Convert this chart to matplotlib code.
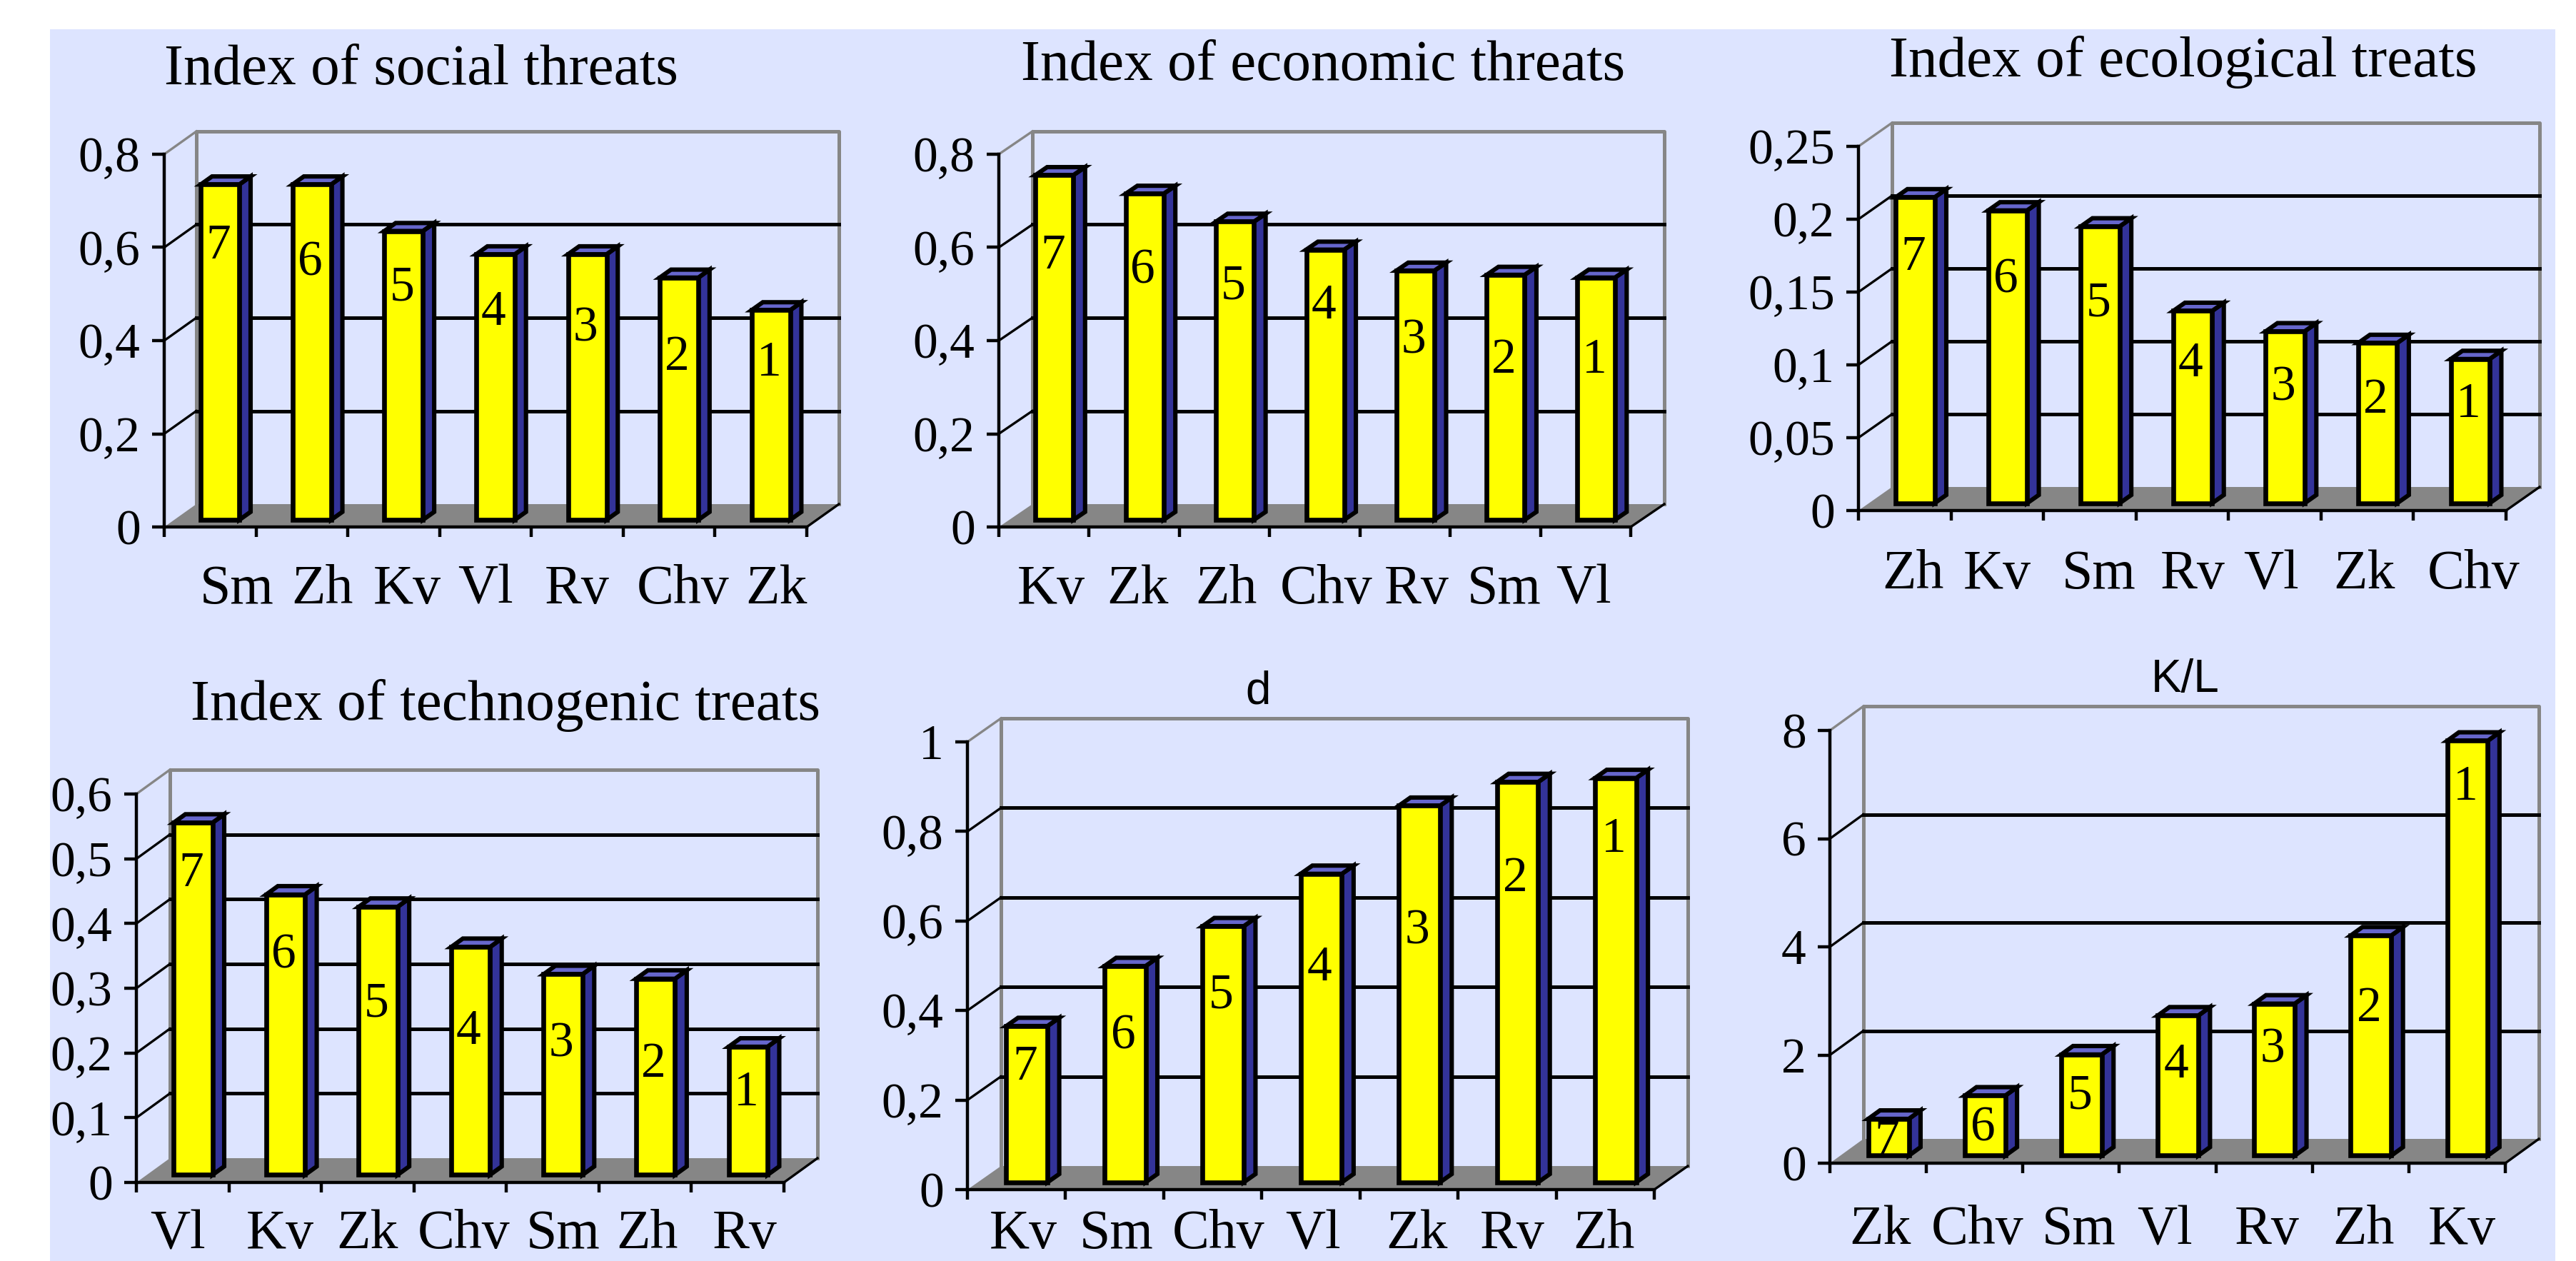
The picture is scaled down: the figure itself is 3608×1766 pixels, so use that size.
import matplotlib.pyplot as plt
from matplotlib.patches import Polygon, Rectangle

# Data
social_cats = ['Sm', 'Zh', 'Kv', 'Vl', 'Rv', 'Chv', 'Zk']
social_vals = [0.72, 0.72, 0.62, 0.57, 0.57, 0.52, 0.45]
economic_cats = ['Kv', 'Zk', 'Zh', 'Chv', 'Rv', 'Sm', 'Vl']
economic_vals = [0.74, 0.70, 0.64, 0.58, 0.535, 0.526, 0.52]
ecological_cats = ['Zh', 'Kv', 'Sm', 'Rv', 'Vl', 'Zk', 'Chv']
ecological_vals = [0.21, 0.201, 0.19, 0.132, 0.118, 0.11, 0.099]
technogenic_cats = ['Vl', 'Kv', 'Zk', 'Chv', 'Sm', 'Zh', 'Rv']
technogenic_vals = [0.544, 0.433, 0.414, 0.352, 0.31, 0.303, 0.198]
d_cats = ['Kv', 'Sm', 'Chv', 'Vl', 'Zk', 'Rv', 'Zh']
d_vals = [0.349, 0.483, 0.572, 0.689, 0.841, 0.894, 0.903]
kl_cats = ['Zk', 'Chv', 'Sm', 'Vl', 'Rv', 'Zh', 'Kv']
kl_vals = [0.68, 1.11, 1.87, 2.59, 2.81, 4.07, 7.67]

social_ticks = ['0', '0,2', '0,4', '0,6', '0,8']
economic_ticks = ['0', '0,2', '0,4', '0,6', '0,8']
ecological_ticks = ['0', '0,05', '0,1', '0,15', '0,2', '0,25']
technogenic_ticks = ['0', '0,1', '0,2', '0,3', '0,4', '0,5', '0,6']
d_ticks = ['0', '0,2', '0,4', '0,6', '0,8', '1']
kl_ticks = ['0', '2', '4', '6', '8']

rank_labels = ['7', '6', '5', '4', '3', '2', '1']

W, H = 3608, 1766
BG = '#dde4ff'
GREY = '#868686'
YELLOW = '#ffff00'
SIDE = '#333399'
TOP = '#6666cc'

SERIF = 'Liberation Serif'
SANS = 'Liberation Sans'

# title, font, cats, vals, ticks, tick step, front box (x0, x1, ytop, y0) in px, depth (dx, dy) in px,
# title centre x and baseline y in px, rank label height as share of bar, category label shift in slots,
# category baseline below the axis in px
panels = [
    ('Index of social threats', SERIF, 58.5, social_cats, social_vals, social_ticks, 0.2,
     (230, 1130, 216, 738), (45, 32), (590, 118),
     [.83, .78, .82, .80, .74, .69, .77], [.29, .22, .15, 0, 0, .15, .17], 107),
    ('Index of economic threats', SERIF, 58.5, economic_cats, economic_vals, economic_ticks, 0.2,
     (1399, 2284, 216, 738), (47, 32), (1853, 112),
     [.78, .78, .80, .81, .74, .67, .68], [.08, .04, .02, .13, .13, .10, -.02], 107),
    ('Index of ecological treats', SERIF, 58.5, ecological_cats, ecological_vals, ecological_ticks, 0.05,
     (2603, 3510, 205, 715), (47, 33), (3058, 107),
     [.82, .78, .74, .75, .70, .675, .72], [.09, 0, .10, .11, -.04, -.03, .15], 109),
    ('Index of technogenic treats', SERIF, 58.5, technogenic_cats, technogenic_vals, technogenic_ticks, 0.1,
     (191, 1098, 1112, 1656), (47, 34), (708, 1008),
     [.87, .80, .655, .65, .675, .59, .68], [-.05, .05, 0, .04, .11, .02, .08], 92),
    ('d', SANS, 46, d_cats, d_vals, d_ticks, 0.2,
     (1355, 2317, 1039, 1666), (47, 33), (1762, 986),
     [.77, .70, .75, .71, .68, .77, .86], [.07, .02, .06, .02, .08, .05, -.01], 82),
    ('K/L', SANS, 46, kl_cats, kl_vals, kl_ticks, 2,
     (2563, 3509, 1023, 1629), (47, 34), (3061, 969),
     [.52, .54, .64, .68, .73, .69, .90], [.02, .03, .08, -.03, .03, .03, .05], 113),
]

fig = plt.figure(figsize=(W / 100, H / 100), dpi=100, facecolor='white')
fig.add_artist(Rectangle((70 / W, 0), (3579 - 70) / W, 1 - 41 / H, transform=fig.transFigure,
                         facecolor=BG, edgecolor='none', zorder=-5))

for title, tfont, tsize, cats, vals, ticks, step, box, depth, tpos, rank_pos, cat_shift, cat_gap in panels:
    x0, x1, ytop, y0 = box
    n = len(cats)
    ymax = step * (len(ticks) - 1)
    ax = fig.add_axes([x0 / W, 1 - y0 / H, (x1 - x0) / W, (y0 - ytop) / H])
    ax.set_xlim(0, n)
    ax.set_ylim(0, ymax)
    ax.patch.set_visible(False)

    # depth in data units
    ddx = depth[0] / ((x1 - x0) / n)
    ddy = depth[1] / ((y0 - ytop) / ymax)

    # floor and back wall
    ax.add_patch(Polygon([(0, 0), (n, 0), (n + ddx, ddy), (ddx, ddy)], facecolor=GREY,
                         edgecolor='none', clip_on=False, zorder=1))
    ax.plot([ddx, ddx, n + ddx, n + ddx], [ddy, ymax + ddy, ymax + ddy, ddy], color=GREY,
            lw=3.6, clip_on=False, zorder=1.5, solid_capstyle='projecting')

    tick_vals = [step * i for i in range(len(ticks))]
    for t in tick_vals[1:-1]:
        ax.plot([ddx, n + ddx], [t + ddy, t + ddy], color='black', lw=3.6, clip_on=False, zorder=2)
    for t in tick_vals[1:-1]:
        ax.plot([0, ddx], [t, t + ddy], color='black', lw=2.4, clip_on=False, zorder=2)
    ax.plot([0, ddx], [ymax, ymax + ddy], color=GREY, lw=2.4, clip_on=False, zorder=2)
    ax.plot([n, n + ddx], [0, ddy], color='black', lw=2.4, clip_on=False, zorder=2)

    # 3D bars
    bw = 0.42
    off_x = 0.31 * ddx
    off_y = 0.31 * ddy
    bdx = 0.35 * ddx
    bdy = 0.35 * ddy
    for i, v in enumerate(vals):
        xc = i + 0.5 + off_x
        xl = xc - bw / 2
        xr = xc + bw / 2
        top = v + off_y
        ax.add_patch(Polygon([(xr, off_y), (xr + bdx, off_y + bdy), (xr + bdx, top + bdy), (xr, top)],
                             facecolor=SIDE, edgecolor='black', lw=4.4, clip_on=False, zorder=3 + i * 0.01,
                             joinstyle='miter'))
        ax.add_patch(Polygon([(xl, top), (xr, top), (xr + bdx, top + bdy), (xl + bdx, top + bdy)],
                             facecolor=TOP, edgecolor='black', lw=4.4, clip_on=False, zorder=3 + i * 0.01,
                             joinstyle='miter'))
        ax.bar(xc, v, width=bw, bottom=off_y, color=YELLOW, edgecolor='black', linewidth=4.8,
               clip_on=False, zorder=4 + i * 0.01)
        ax.text(xc - 0.02, off_y + v * rank_pos[i], rank_labels[i], ha='center', va='center_baseline',
                fontsize=50, family=SERIF, color='black', zorder=5)

    # axes lines, ticks and tick labels
    for side in ['top', 'right']:
        ax.spines[side].set_visible(False)
    for side in ['left', 'bottom']:
        ax.spines[side].set_linewidth(3.2)
        ax.spines[side].set_zorder(2.5)
    ax.set_xticks(range(n + 1))
    ax.set_xticklabels([])
    ax.set_yticks(tick_vals)
    ax.set_yticklabels(ticks, fontsize=50, family=SERIF)
    ax.tick_params(axis='y', length=12, width=3.2, pad=12)
    ax.tick_params(axis='x', length=10, width=3.2)

    # category labels under the slots
    for i, c in enumerate(cats):
        ax.annotate(c, (i + 0.5 + cat_shift[i], 0), xytext=(0, -cat_gap * 0.72), textcoords='offset points',
                    ha='center', va='baseline', fontsize=56, family=SERIF, annotation_clip=False)

    fig.text(tpos[0] / W, 1 - tpos[1] / H, title, ha='center', va='baseline', fontsize=tsize, family=tfont)

fig.savefig('out.png', dpi=100)
